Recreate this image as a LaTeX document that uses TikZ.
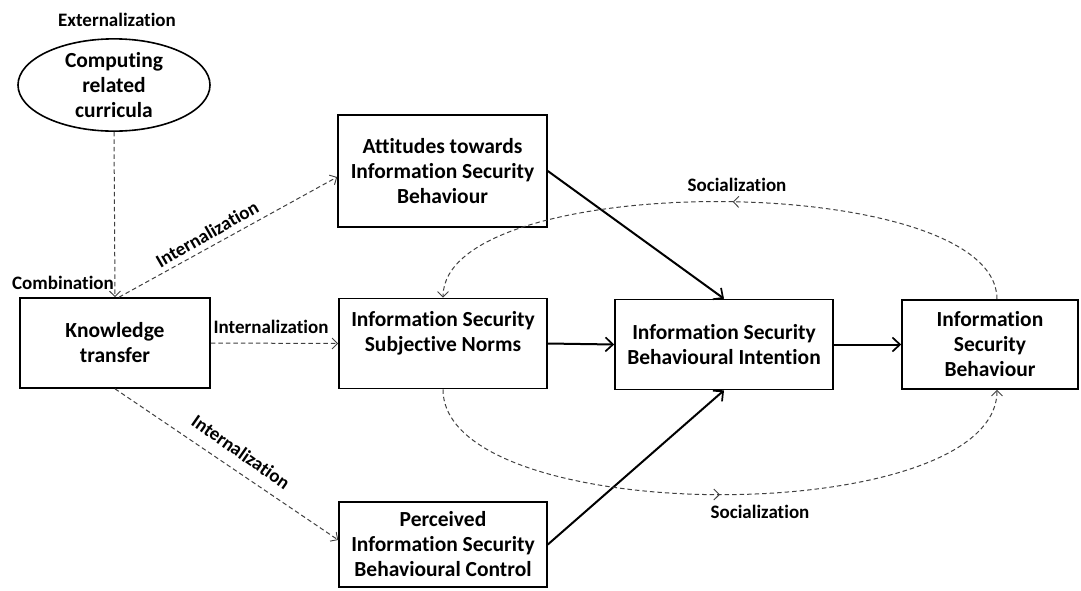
\documentclass[tikz,border=0pt]{standalone}
\usepackage{fontspec}
\setmainfont{Carlito}[Ligatures=NoCommon]
\usetikzlibrary{arrows.meta,shapes.geometric,decorations.markings}
\begin{document}
\begin{tikzpicture}[x=1pt,y=-1pt,
  box/.style={draw, line width=1.6pt, align=center, inner sep=0pt,
    font=\bfseries\fontsize{21.5}{25}\selectfont},
  lbl/.style={font=\bfseries\fontsize{19}{22}\selectfont, inner sep=0pt},
  solidarrow/.style={line width=2pt,
    -{Straight Barb[length=7.5pt,width=14pt,line width=1.7pt]}},
  dasharrow/.style={draw=black!75, line width=1pt, dash pattern=on 4.5pt off 3pt,
    -{Straight Barb[length=5.5pt,width=11pt,line width=0.9pt]}},
  midtip/.style={postaction=decorate, decoration={markings,
    mark=at position #1 with {\arrow{Straight Barb[length=5.5pt,width=11pt,line width=0.9pt]}}}}
]
\useasboundingbox (0,0) rectangle (1081,590);

% source and constructs
\node[box, shape=ellipse, minimum width=192pt, minimum height=90pt] (cur) at (114,85)
  {Computing\\related\\curricula};
\node[box, minimum width=190pt, minimum height=90pt] (kt) at (115,343) {Knowledge\\transfer};
\node[box, minimum width=209pt, minimum height=112pt] (att) at (442.5,171)
  {Attitudes towards\\Information Security\\Behaviour};
\node[box, minimum width=208pt, minimum height=90pt] (sn) at (443,343.5)
  {Information Security\\Subjective Norms\\\mbox{}};
\node[box, minimum width=208pt, minimum height=85pt] (pbc) at (443,544.5)
  {Perceived\\Information Security\\Behavioural Control};
\node[box, minimum width=218pt, minimum height=90pt] (bi) at (724,344.5)
  {Information Security\\Behavioural Intention};
\node[box, minimum width=176pt, minimum height=89pt] (isb) at (990,344.5)
  {Information\\Security\\Behaviour};

% labels
\node[lbl] (lext) at (117,20) {Externalization};
\node[lbl] (lcomb) at (63,283) {Combination};
\node[lbl] (lint1) at (271,327) {Internalization};
\node[lbl, rotate=30] (lint2) at (207,234) {Internalization};
\node[lbl, rotate=-35] (lint3) at (241,452) {Internalization};
\node[lbl] (lsoc1) at (737,185) {Socialization};
\node[lbl] (lsoc2) at (760,512) {Socialization};

% knowledge flows
\draw[dasharrow] (cur.south) -- (kt.north);
\draw[dasharrow] ([xshift=4pt]kt.north) -- ([yshift=-6pt]att.west);
\draw[dasharrow] (kt.east) -- (sn.west);
\draw[dasharrow] (kt.south) -- ([yshift=4.5pt]pbc.west);

% TPB paths
\draw[solidarrow] (att.east) -- (bi.north);
\draw[solidarrow] (sn.east) -- (bi.west);
\draw[solidarrow] (pbc.east) -- (bi.south);
\draw[solidarrow] (bi.east) -- (isb.west);

% socialization loops
\draw[dasharrow, midtip=0.48] ([xshift=7pt]isb.north) .. controls +(0,-129) and +(0,-129) .. (sn.north);
\draw[dasharrow, midtip=0.5] (sn.south) .. controls +(0,140) and +(0,140) .. ([xshift=7pt]isb.south);
\end{tikzpicture}
\end{document}
